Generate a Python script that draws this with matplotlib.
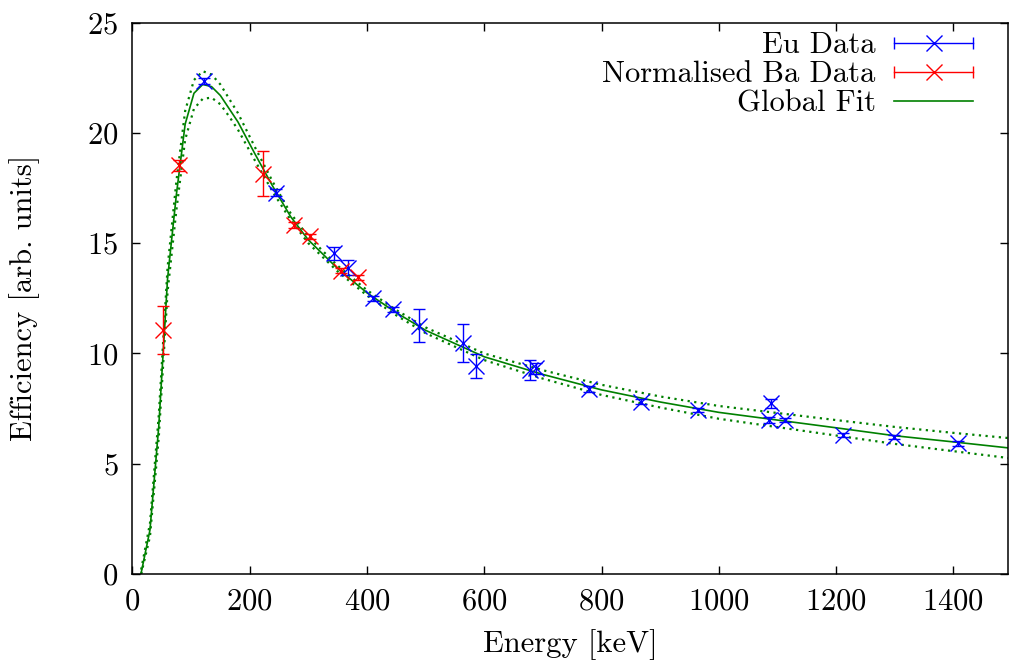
import numpy as np
import matplotlib
matplotlib.use("Agg")
import matplotlib.pyplot as plt
from matplotlib.lines import Line2D
from matplotlib.legend_handler import HandlerLine2D, HandlerTuple

plt.rcParams["font.family"] = ["cmr10", "DejaVu Serif"]
plt.rcParams["axes.formatter.use_mathtext"] = True
plt.rcParams["mathtext.fontset"] = "cm"

# Eu-152 points (energy keV, efficiency, error)
eu_energy = [122, 245, 344, 367, 411, 444, 489, 564, 586, 678, 688, 779, 867, 964,
             1085, 1089, 1112, 1212, 1299, 1408]
eu_eff = [22.35, 17.29, 14.54, 13.89, 12.50, 12.00, 11.26, 10.46, 9.44, 9.25, 9.32,
          8.39, 7.81, 7.43, 6.98, 7.74, 6.98, 6.30, 6.22, 5.92]
eu_err = [0.15, 0.15, 0.30, 0.34, 0.12, 0.10, 0.76, 0.86, 0.53, 0.45, 0.25,
          0.12, 0.12, 0.10, 0.12, 0.20, 0.10, 0.10, 0.10, 0.10]

# Ba-133 points, normalised
ba_energy = [53, 80, 223, 276, 303, 355, 384]
ba_eff = [11.06, 18.53, 18.16, 15.83, 15.32, 13.75, 13.45]
ba_err = [1.10, 0.24, 1.04, 0.15, 0.12, 0.12, 0.12]

# global fit, with its upper/lower bands
fit_energy = [15, 30, 45, 60, 75, 90, 105, 120, 135, 150, 165, 180, 210, 240, 270,
              300, 350, 400, 450, 500, 600, 700, 800, 900, 1000, 1100, 1200, 1300,
              1400, 1500]
fit_eff = [0.05, 2.0, 6.7, 13.4, 17.2, 20.4, 21.8, 22.2, 22.1, 21.7, 21.1, 20.5,
           19.0, 17.55, 16.2, 15.15, 13.85, 12.75, 11.85, 11.05, 9.85, 9.05, 8.35,
           7.8, 7.33, 6.98, 6.63, 6.27, 5.99, 5.70]
fit_upper = [0.2, 2.3, 7.2, 13.9, 17.8, 21.0, 22.4, 22.8, 22.65, 22.2, 21.55, 20.9,
             19.3, 17.75, 16.35, 15.3, 13.98, 12.87, 11.97, 11.18, 10.0, 9.24, 8.58,
             8.05, 7.62, 7.3, 6.98, 6.67, 6.4, 6.15]
fit_lower = [0.0, 1.7, 6.2, 12.8, 16.5, 19.7, 21.1, 21.55, 21.6, 21.3, 20.75, 20.15,
             18.7, 17.3, 16.05, 15.0, 13.72, 12.63, 11.73, 10.92, 9.7, 8.86, 8.12,
             7.55, 7.04, 6.66, 6.28, 5.9, 5.57, 5.24]

fs = 22
fig = plt.figure(figsize=(10.09, 6.67), dpi=100)
ax = fig.add_axes([0.1312, 0.1394, 0.8678, 0.8266])

green = "#008000"
ax.plot(fit_energy, fit_eff, color=green, lw=1.2, zorder=2)
ax.plot(fit_energy, fit_upper, color=green, lw=1.6, ls=(0, (1, 2)), zorder=2)
ax.plot(fit_energy, fit_lower, color=green, lw=1.6, ls=(0, (1, 2)), zorder=2)

ax.errorbar(eu_energy, eu_eff, yerr=eu_err, fmt="x", color="blue", ms=12, mew=1.0,
            elinewidth=1.0, capsize=4, capthick=1.0, zorder=3)
ax.errorbar(ba_energy, ba_eff, yerr=ba_err, fmt="x", color="red", ms=12, mew=1.0,
            elinewidth=1.0, capsize=4, capthick=1.0, zorder=3)

ax.set_xlim(0, 1493)
ax.set_ylim(0, 25)
ax.set_xticks(range(0, 1401, 200))
ax.set_yticks(range(0, 26, 5))
ax.tick_params(direction="in", top=True, right=True, length=5.5, width=1.0,
               labelsize=fs)
ax.tick_params(axis="x", pad=10)
ax.tick_params(axis="y", pad=10)
for s in ax.spines.values():
    s.set_linewidth(1.1)
ax.set_xlabel("Energy [keV]", fontsize=fs, labelpad=10)
ax.set_ylabel("Efficiency [arb. units]", fontsize=fs, labelpad=34)

# gnuplot-style legend: horizontal bar with end caps and a cross in the middle
def key(color):
    caps = Line2D([], [], color=color, lw=1.0, marker="|", ms=8, mew=1.0)
    cross = Line2D([], [], color=color, ls="none", marker="x", ms=12, mew=1.0)
    return caps, cross

eu_caps, eu_x = key("blue")
ba_caps, ba_x = key("red")
fit_key = Line2D([], [], color=green, lw=1.2)
hmap = {
    eu_caps: HandlerLine2D(numpoints=2, marker_pad=0),
    ba_caps: HandlerLine2D(numpoints=2, marker_pad=0),
    eu_x: HandlerLine2D(numpoints=1),
    ba_x: HandlerLine2D(numpoints=1),
    tuple: HandlerTuple(ndivide=1, pad=0),
}
ax.legend([(eu_caps, eu_x), (ba_caps, ba_x), fit_key],
          ["Eu Data", "Normalised Ba Data", "Global Fit"],
          handler_map=hmap, loc="upper right", bbox_to_anchor=(0.985, 1.022),
          frameon=False, markerfirst=False, fontsize=fs, handlelength=2.6,
          handletextpad=0.6, labelspacing=0.05, borderpad=0.2)

fig.savefig("out.png", dpi=100)
